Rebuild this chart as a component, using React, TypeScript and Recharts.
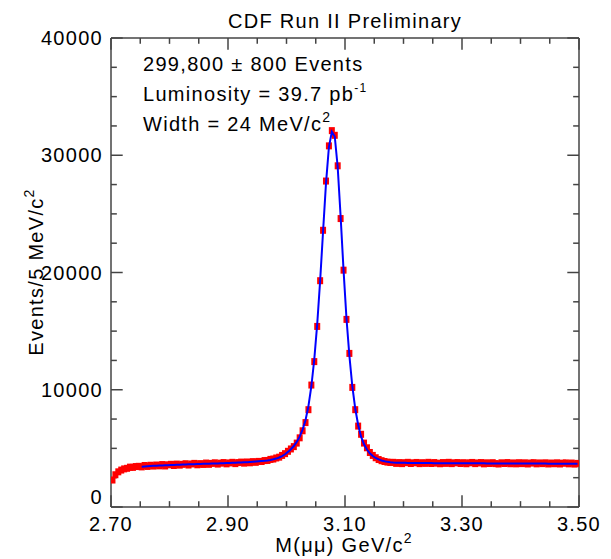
import React from "react";
import { ComposedChart, Scatter, XAxis, YAxis, ReferenceLine } from "recharts";

// bin centres, 5 MeV/c^2 bins
const massBins = [
  2.7025, 2.7075, 2.7125, 2.7175, 2.7225, 2.7275, 2.7325, 2.7375, 2.7425, 2.7475,
  2.7525, 2.7575, 2.7625, 2.7675, 2.7725, 2.7775, 2.7825, 2.7875, 2.7925, 2.7975,
  2.8025, 2.8075, 2.8125, 2.8175, 2.8225, 2.8275, 2.8325, 2.8375, 2.8425, 2.8475,
  2.8525, 2.8575, 2.8625, 2.8675, 2.8725, 2.8775, 2.8825, 2.8875, 2.8925, 2.8975,
  2.9025, 2.9075, 2.9125, 2.9175, 2.9225, 2.9275, 2.9325, 2.9375, 2.9425, 2.9475,
  2.9525, 2.9575, 2.9625, 2.9675, 2.9725, 2.9775, 2.9825, 2.9875, 2.9925, 2.9975,
  3.0025, 3.0075, 3.0125, 3.0175, 3.0225, 3.0275, 3.0325, 3.0375, 3.0425, 3.0475,
  3.0525, 3.0575, 3.0625, 3.0675, 3.0725, 3.0775, 3.0825, 3.0875, 3.0925, 3.0975,
  3.1025, 3.1075, 3.1125, 3.1175, 3.1225, 3.1275, 3.1325, 3.1375, 3.1425, 3.1475,
  3.1525, 3.1575, 3.1625, 3.1675, 3.1725, 3.1775, 3.1825, 3.1875, 3.1925, 3.1975,
  3.2025, 3.2075, 3.2125, 3.2175, 3.2225, 3.2275, 3.2325, 3.2375, 3.2425, 3.2475,
  3.2525, 3.2575, 3.2625, 3.2675, 3.2725, 3.2775, 3.2825, 3.2875, 3.2925, 3.2975,
  3.3025, 3.3075, 3.3125, 3.3175, 3.3225, 3.3275, 3.3325, 3.3375, 3.3425, 3.3475,
  3.3525, 3.3575, 3.3625, 3.3675, 3.3725, 3.3775, 3.3825, 3.3875, 3.3925, 3.3975,
  3.4025, 3.4075, 3.4125, 3.4175, 3.4225, 3.4275, 3.4325, 3.4375, 3.4425, 3.4475,
  3.4525, 3.4575, 3.4625, 3.4675, 3.4725, 3.4775, 3.4825, 3.4875, 3.4925, 3.4975,
];

// measured events per bin
const events = [
  2300, 2750, 3000, 3150, 3250, 3300, 3400, 3380, 3450, 3470,
  3420, 3540, 3460, 3560, 3490, 3580, 3510, 3620, 3500, 3600,
  3640, 3540, 3660, 3570, 3640, 3690, 3580, 3670, 3720, 3600,
  3700, 3630, 3750, 3640, 3720, 3770, 3660, 3740, 3790, 3680,
  3760, 3810, 3700, 3790, 3830, 3740, 3840, 3770, 3870, 3810,
  3890, 3880, 3960, 3970, 4060, 4090, 4180, 4250, 4400, 4550,
  4750, 4950, 5150, 5450, 5900, 6500, 7200, 8300, 10400, 12400,
  15400, 19300, 23600, 27800, 30800, 32100, 31700, 29100, 24600, 20200,
  16000, 13100, 10200, 8300, 6900, 6200, 5450, 5050, 4650, 4400,
  4200, 4050, 3950, 3880, 3830, 3800, 3810, 3720, 3790, 3700,
  3780, 3810, 3710, 3770, 3800, 3700, 3780, 3720, 3810, 3710,
  3790, 3740, 3690, 3790, 3720, 3810, 3700, 3770, 3790, 3710,
  3780, 3690, 3770, 3800, 3700, 3760, 3790, 3680, 3770, 3710,
  3780, 3700, 3670, 3770, 3710, 3790, 3690, 3760, 3680, 3780,
  3700, 3770, 3670, 3750, 3780, 3680, 3760, 3700, 3770, 3670,
  3750, 3690, 3770, 3670, 3740, 3760, 3680, 3750, 3660, 3720,
];

// fit curve (starts at 2.75)
const fitCurve = [
  null, null, null, null, null, null, null, null, null, null,
  3440, 3460, 3480, 3495, 3510, 3525, 3540, 3550, 3560, 3570,
  3580, 3590, 3600, 3610, 3620, 3630, 3640, 3648, 3656, 3664,
  3672, 3680, 3688, 3696, 3704, 3712, 3720, 3728, 3736, 3745,
  3755, 3765, 3775, 3786, 3798, 3810, 3824, 3838, 3854, 3872,
  3892, 3915, 3942, 3975, 4015, 4065, 4130, 4220, 4340, 4500,
  4700, 4930, 5200, 5550, 6000, 6600, 7400, 8600, 10300, 12600,
  15600, 19300, 23500, 27600, 30700, 32000, 31600, 29000, 24800, 20200,
  16100, 12900, 10300, 8400, 7000, 6000, 5350, 4900, 4580, 4350,
  4180, 4060, 3970, 3900, 3850, 3815, 3790, 3782, 3776, 3771,
  3767, 3763, 3760, 3757, 3754, 3751, 3749, 3747, 3745, 3743,
  3741, 3739, 3737, 3735, 3734, 3733, 3732, 3731, 3730, 3729,
  3728, 3727, 3726, 3725, 3724, 3723, 3722, 3721, 3720, 3719,
  3718, 3717, 3716, 3715, 3714, 3713, 3712, 3711, 3710, 3709,
  3708, 3707, 3706, 3705, 3704, 3703, 3702, 3701, 3700, 3699,
  3698, 3697, 3696, 3695, 3694, 3693, 3692, 3691, 3690, 3689,
];

const xTicks = [
  2.7, 2.75, 2.8, 2.85, 2.9, 2.95, 3.0, 3.05, 3.1, 3.15, 3.2, 3.25, 3.3, 3.35, 3.4, 3.45, 3.5,
];
const xLabels = [2.7, 2.9, 3.1, 3.3, 3.5];
const yTicks = [
  0, 2500, 5000, 7500, 10000, 12500, 15000, 17500, 20000, 22500, 25000, 27500, 30000,
  32500, 35000, 37500, 40000,
];
const yLabels = [0, 10000, 20000, 30000, 40000];

const pointData = massBins.map((m, i) => ({ m, count: events[i] }));
const fitData = massBins
  .map((m, i) => ({ m, fit: fitCurve[i] }))
  .filter((d) => d.fit !== null);

const X_MIN = 2.7;
const X_MAX = 3.5;
const Y_MAX = 40000;
// tick lengths in data units (~12px / ~6px)
const XT_MAJ = 1000;
const XT_MIN = 500;
const YT_MAJ = 0.02;
const YT_MIN = 0.01;

const FONT = "'Liberation Sans', Arial, Helvetica, sans-serif";
const AXIS = "#444";
const near = (a: number, list: number[]) => list.some((b) => Math.abs(a - b) < 1e-6);

const BottomLabel = (p: any) => {
  const v = p.payload.value;
  if (!near(v, xLabels)) return <g />;
  return (
    <text x={p.x} y={p.y + 24} textAnchor="middle" fontSize={20} letterSpacing={1.3} fontFamily={FONT} fill="#000">
      {v.toFixed(2)}
    </text>
  );
};

const LeftLabel = (p: any) => {
  const v = p.payload.value;
  if (!near(v, yLabels)) return <g />;
  // the zero label sits a little higher, clear of the 2.70 label
  const dy = v === 0 ? -3 : 7;
  return (
    <text x={p.x - 8} y={p.y + dy} textAnchor="end" fontSize={20} letterSpacing={1.3} fontFamily={FONT} fill="#000">
      {v}
    </text>
  );
};

const Square = (p: any) => <rect x={p.cx - 3} y={p.cy - 3.5} width={6} height={7} fill="#ff0000" />;
const NoDot = () => <g />;

const txt = { fontFamily: FONT, fontSize: 20, letterSpacing: 1.3, fill: "#000" } as const;
const tickStroke = { stroke: AXIS, strokeWidth: 1.5 };

export default function App() {
  return (
    <div style={{ position: "absolute", left: 0, top: 0, width: 611, height: 559, background: "#fff" }}>
      <ComposedChart width={611} height={559} margin={{ top: 38, right: 32, bottom: 0, left: 0 }}>
        <XAxis
          dataKey="m"
          type="number"
          domain={[X_MIN, X_MAX]}
          ticks={xTicks}
          interval={0}
          height={52}
          tickSize={0}
          tickMargin={0}
          tickLine={false}
          axisLine={{ stroke: AXIS, strokeWidth: 1.5 }}
          tick={<BottomLabel />}
          allowDataOverflow
        />
        <YAxis
          type="number"
          domain={[0, Y_MAX]}
          ticks={yTicks}
          interval={0}
          width={111}
          tickSize={0}
          tickMargin={0}
          tickLine={false}
          axisLine={{ stroke: AXIS, strokeWidth: 1.5 }}
          tick={<LeftLabel />}
          allowDataOverflow
        />
        {/* frame top & right */}
        <ReferenceLine y={Y_MAX} stroke={AXIS} strokeWidth={1.5} ifOverflow="visible" />
        <ReferenceLine x={X_MAX} stroke={AXIS} strokeWidth={1.5} ifOverflow="visible" />
        {/* inward tick marks on all four sides */}
        {xTicks.map((t) => {
          const len = near(t, xLabels) ? XT_MAJ : XT_MIN;
          return (
            <React.Fragment key={`xt-${t}`}>
              <ReferenceLine segment={[{ x: t, y: 0 }, { x: t, y: len }]} {...tickStroke} ifOverflow="visible" />
              <ReferenceLine segment={[{ x: t, y: Y_MAX }, { x: t, y: Y_MAX - len }]} {...tickStroke} ifOverflow="visible" />
            </React.Fragment>
          );
        })}
        {yTicks.map((v) => {
          const len = near(v, yLabels) ? YT_MAJ : YT_MIN;
          return (
            <React.Fragment key={`yt-${v}`}>
              <ReferenceLine segment={[{ x: X_MIN, y: v }, { x: X_MIN + len, y: v }]} {...tickStroke} ifOverflow="visible" />
              <ReferenceLine segment={[{ x: X_MAX, y: v }, { x: X_MAX - len, y: v }]} {...tickStroke} ifOverflow="visible" />
            </React.Fragment>
          );
        })}
        <Scatter data={pointData} dataKey="count" shape={<Square />} isAnimationActive={false} />
        {/* fit drawn as a joined scatter so it sits on top of the points */}
        <Scatter
          data={fitData}
          dataKey="fit"
          shape={<NoDot />}
          line={{ stroke: "#0000ff", strokeWidth: 2 }}
          lineType="joint"
          isAnimationActive={false}
        />
      </ComposedChart>
      <svg width={611} height={559} style={{ position: "absolute", left: 0, top: 0, pointerEvents: "none" }}>
        <text x={345} y={28} textAnchor="middle" {...txt}>CDF Run II Preliminary</text>
        <text x={143} y={71} {...txt}>299,800 ± 800 Events</text>
        <text x={143} y={101} {...txt}>
          Luminosity = 39.7 pb<tspan fontSize={12} dy={-9}>-1</tspan>
        </text>
        <text x={143} y={131} {...txt}>
          Width = 24 MeV/c<tspan fontSize={14} dy={-9}>2</tspan>
        </text>
        <text x={344} y={552} textAnchor="middle" {...txt}>
          M(μμ) GeV/c<tspan fontSize={14} dy={-9}>2</tspan>
        </text>
        <text x={43} y={272} textAnchor="middle" transform="rotate(-90 43 272)" {...txt}>
          Events/5 MeV/c<tspan fontSize={14} dy={-9}>2</tspan>
        </text>
      </svg>
    </div>
  );
}
